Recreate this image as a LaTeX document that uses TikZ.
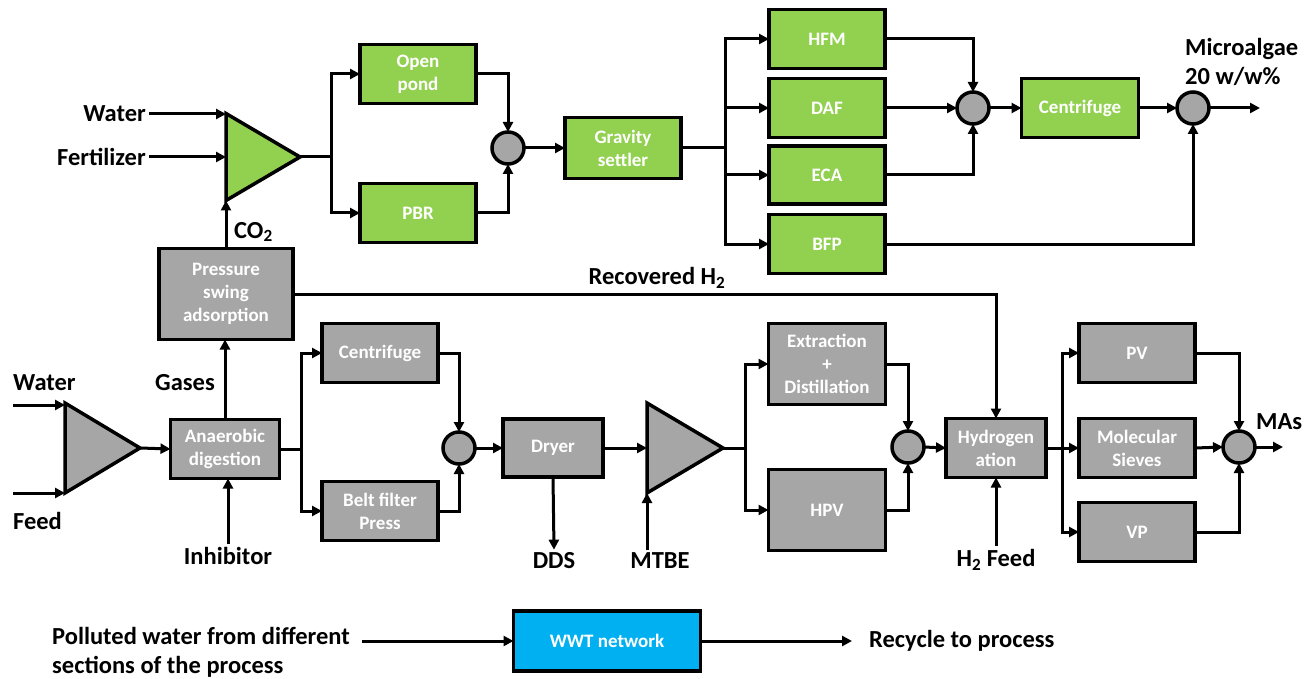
\documentclass[tikz,border=0pt]{standalone}
\usepackage{fontspec}
\setmainfont{Carlito}
\usepackage{tikz}
\usetikzlibrary{arrows.meta,positioning,shapes.geometric}

\definecolor{algaegreen}{RGB}{146,208,80}
\definecolor{unitgray}{RGB}{166,166,166}
\definecolor{wwtblue}{RGB}{0,176,240}

\begin{document}
\begin{tikzpicture}[
  x=1pt, y=-1pt,
  unit/.style={draw, line width=3.5pt, minimum width=116pt, minimum height=59pt, inner sep=2pt, outer sep=0pt, align=center, text=white, font=\bfseries\fontsize{19}{23}\selectfont},
  grn/.style={unit, fill=algaegreen},
  gry/.style={unit, fill=unitgray},
  mix/.style={circle, draw, line width=3.5pt, fill=unitgray, minimum size=32pt, inner sep=0pt, outer sep=0pt},
  tri/.style={isosceles triangle, isosceles triangle stretches, draw, line width=3.5pt, inner sep=0pt, outer sep=0pt, anchor=lower side},
  lbl/.style={inner sep=3pt, align=left, font=\bfseries\fontsize{24.5}{29}\selectfont},
  arr/.style={-{Triangle[length=10pt,width=10pt]}, line width=3pt}
]
  \useasboundingbox (0,0) rectangle (1314,679);

  % microalgae section
  \node[tri, fill=algaegreen, minimum height=74pt, minimum width=87pt] (mixA) at (226,157) {};
  \node[lbl, anchor=east] (waterA) at (149,114) {Water};
  \node[lbl, anchor=east] (fert) at (149,157) {Fertilizer};
  \node[grn] (pond) at (418,74) {Open\\pond};
  \node[grn] (pbr) at (418,213) {PBR};
  \node[mix] (m1) at (508,148) {};
  \node[grn, minimum width=116pt, minimum height=61pt] (settler) at (623,148) {Gravity\\settler};
  \node[grn] (hfm) at (827,39) {HFM};
  \node[grn] (daf) at (827,108) {DAF};
  \node[grn, minimum height=58pt] (eca) at (827,175) {ECA};
  \node[grn] (bfp) at (827,244) {BFP};
  \node[mix] (m2) at (973,108) {};
  \node[grn, minimum width=117pt] (centA) at (1080,108) {Centrifuge};
  \node[mix] (m3) at (1193,108) {};
  \coordinate (algaeout) at (1260,108);
  \node[lbl, anchor=west] (algae) at (1182,62) {Microalgae\\20 w/w\%};

  % digestion and separation section
  \node[gry, minimum width=134pt, minimum height=91pt] (psa) at (226,294) {Pressure\\swing\\adsorption};
  \node[lbl, anchor=west] (co2) at (231,232) {CO\textsubscript{2}};
  \node[lbl] (recov) at (657,278) {Recovered H\textsubscript{2}};
  \node[tri, fill=unitgray, minimum height=75pt, minimum width=90pt] (mixB) at (65,448) {};
  \node[lbl, anchor=west] (waterB) at (10,383) {Water};
  \node[lbl, anchor=west] (feed) at (10,521) {Feed};
  \coordinate (waterin) at (13,405);
  \coordinate (feedin) at (13,493);
  \node[gry, minimum width=109pt] (ad) at (225,449) {Anaerobic\\digestion};
  \node[lbl] (gases) at (185,383) {Gases};
  \node[lbl] (inhib) at (228,556) {Inhibitor};
  \node[gry] (centB) at (380,353) {Centrifuge};
  \node[gry] (belt) at (380,511) {Belt filter\\Press};
  \node[mix] (m4) at (459,448) {};
  \node[gry, minimum width=100pt, minimum height=58pt] (dryer) at (553,448) {Dryer};
  \node[lbl] (dds) at (554,561) {DDS};
  \node[tri, fill=unitgray, minimum height=76pt, minimum width=90pt] (mixC) at (647,448) {};
  \node[lbl] (mtbe) at (660,561) {MTBE};
  \node[gry, minimum width=117pt, minimum height=81pt] (extr) at (827,364) {Extraction\\+\\Distillation};
  \node[gry, minimum width=117pt, minimum height=81pt] (hpv) at (827,510) {HPV};
  \node[mix] (m5) at (908,447) {};
  \node[gry, minimum width=100pt] (hydro) at (996,448) {Hydrogen\\ation};
  \node[lbl] (h2feed) at (996,560) {H\textsubscript{2} Feed};
  \node[gry] (pv) at (1137,353) {PV};
  \node[gry] (sieve) at (1137,448) {Molecular\\Sieves};
  \node[gry] (vp) at (1137,532) {VP};
  \node[mix] (m6) at (1239,447) {};
  \node[lbl, anchor=west] (mas) at (1253,422) {MAs};
  \coordinate (masout) at (1283,447);

  % water treatment
  \node[unit, fill=wwtblue, minimum width=187pt, minimum height=60pt] (wwt) at (607,641) {WWT network};
  \node[lbl, anchor=west] (polluted) at (49,652) {Polluted water from different\\sections of the process};
  \node[lbl, anchor=west] (recycle) at (866,641) {Recycle to process};
  \coordinate (pwin) at (362,641);

  % connectors, top
  \draw[arr] (waterA.east) -- (waterA.east -| mixA.lower side);
  \draw[arr] (fert.east) -- (mixA.lower side);
  \draw[arr] (psa.north) -- (mixA.right corner);
  \draw[arr] (mixA.apex) -- ++(31,0) |- (pond.west);
  \draw[arr] (mixA.apex) -- ++(31,0) |- (pbr.west);
  \draw[arr] (pond.east) -| (m1.north);
  \draw[arr] (pbr.east) -| (m1.south);
  \draw[arr] (m1.east) -- (settler.west);
  \draw[arr] (settler.east) -- ++(44,0) |- (hfm.west);
  \draw[arr] (settler.east) -- ++(44,0) |- (daf.west);
  \draw[arr] (settler.east) -- ++(44,0) |- (eca.west);
  \draw[arr] (settler.east) -- ++(44,0) |- (bfp.west);
  \draw[arr] (hfm.east) -| (m2.north);
  \draw[arr] (daf.east) -- (m2.west);
  \draw[arr] (eca.east) -| (m2.south);
  \draw[arr] (m2.east) -- (centA.west);
  \draw[arr] (centA.east) -- (m3.west);
  \draw[arr] (bfp.east) -| (m3.south);
  \draw[arr] (m3.east) -- (algaeout);

  % connectors, bottom
  \draw[arr] (waterin) -- (waterin -| mixB.lower side);
  \draw[arr] (feedin) -- (feedin -| mixB.lower side);
  \draw[arr] (mixB.apex) -- (ad.west);
  \draw[arr] (ad.north) -- (ad.north |- psa.south);
  \draw[arr] (inhib.north) -- (inhib.north |- ad.south);
  \draw[arr] (psa.east) -| (hydro.north);
  \draw[arr] (ad.east) -- ++(22,0) |- (centB.west);
  \draw[arr] (ad.east) -- ++(22,0) |- (belt.west);
  \draw[arr] (centB.east) -| (m4.north);
  \draw[arr] (belt.east) -| (m4.south);
  \draw[arr] (m4.east) -- (dryer.west);
  \draw[arr] (dryer.south) -- (dds.north);
  \draw[arr] (dryer.east) -- (mixC.lower side);
  \draw[arr] (mtbe.north -| mixC.right corner) -- (mixC.right corner);
  \draw[arr] (mixC.apex) -- ++(22,0) |- (extr.west);
  \draw[arr] (mixC.apex) -- ++(22,0) |- (hpv.west);
  \draw[arr] (extr.east) -| (m5.north);
  \draw[arr] (hpv.east) -| (m5.south);
  \draw[arr] (m5.east) -- (hydro.west);
  \draw[arr] (h2feed.north) -- (hydro.south);
  \draw[arr] (hydro.east) -- ++(16,0) |- (pv.west);
  \draw[arr] (hydro.east) -- ++(16,0) |- (sieve.west);
  \draw[arr] (hydro.east) -- ++(16,0) |- (vp.west);
  \draw[arr] (pv.east) -| (m6.north);
  \draw[arr] (sieve.east) -- (m6.west);
  \draw[arr] (vp.east) -| (m6.south);
  \draw[arr] (m6.east) -- (masout);

  \draw[arr] (pwin) -- (wwt.west);
  \draw[arr, shorten >=14pt] (wwt.east) -- (recycle.west);
\end{tikzpicture}
\end{document}
